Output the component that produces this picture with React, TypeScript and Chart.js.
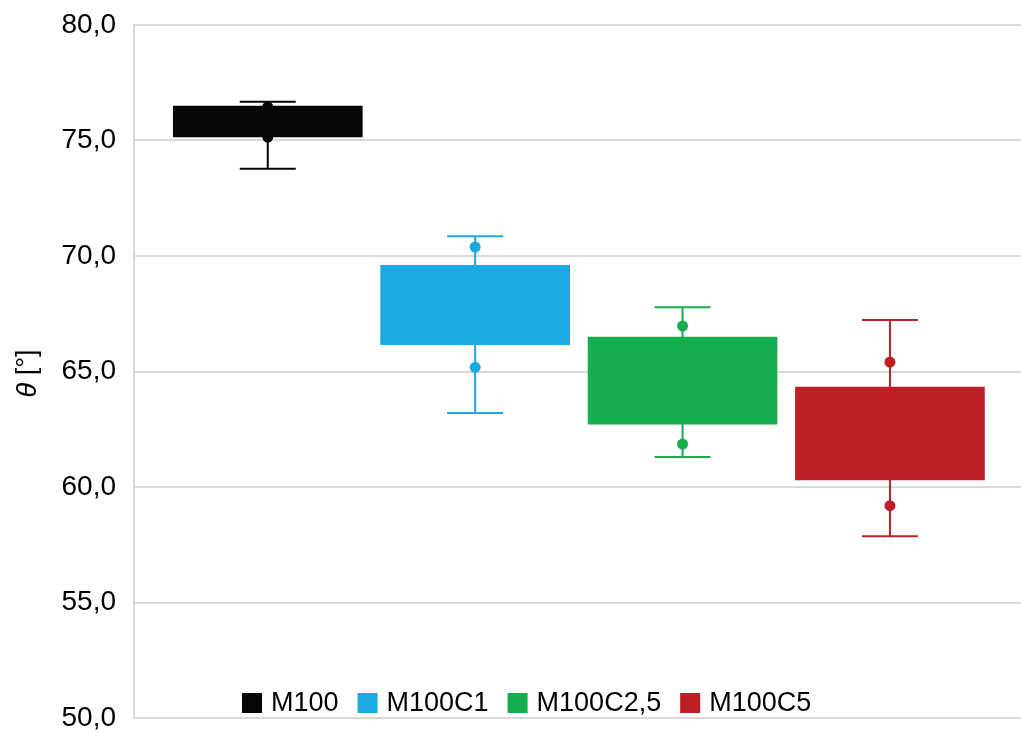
import React, { useEffect, useRef } from "react";
import { Chart, registerables } from "chart.js";

Chart.register(...registerables);

const categories = ["M100", "M100C1", "M100C2,5", "M100C5"];
const colors = ["#060606", "#1aaae0", "#16ad4e", "#bd1f24"];
const boxLow = [75.16, 66.16, 62.72, 60.31];
const boxHigh = [76.49, 69.6, 66.49, 64.33];
const whiskerLow = [73.78, 63.2, 61.3, 57.87];
const whiskerHigh = [76.68, 70.85, 67.78, 67.23];
const pointHigh = [76.45, 70.39, 66.97, 65.41];
const pointLow = [75.15, 65.18, 61.86, 59.19];
const yTicks = [50, 55, 60, 65, 70, 75, 80];

const FONT = "'Liberation Sans', Arial, sans-serif";

const whiskerPlugin = {
  id: "whiskers",
  beforeDatasetsDraw(chart: any) {
    const ctx = chart.ctx;
    const xs = chart.scales.x;
    const ys = chart.scales.y;
    ctx.save();
    ctx.lineWidth = 2;
    categories.forEach((_, i) => {
      const x = xs.getPixelForValue(i + 1);
      const y1 = ys.getPixelForValue(whiskerLow[i]);
      const y2 = ys.getPixelForValue(whiskerHigh[i]);
      ctx.strokeStyle = colors[i];
      ctx.beginPath();
      ctx.moveTo(x, y1);
      ctx.lineTo(x, y2);
      ctx.moveTo(x - 28, y1);
      ctx.lineTo(x + 28, y1);
      ctx.moveTo(x - 28, y2);
      ctx.lineTo(x + 28, y2);
      ctx.stroke();
    });
    ctx.restore();
  },
};

const legendAndTitlePlugin = {
  id: "customLegendTitle",
  afterDraw(chart: any) {
    const ctx = chart.ctx;
    const area = chart.chartArea;
    ctx.save();
    ctx.font = `27px ${FONT}`;
    ctx.textBaseline = "middle";
    ctx.textAlign = "left";
    let x = area.left + 108;
    const yc = area.bottom - 15;
    categories.forEach((name, i) => {
      ctx.fillStyle = colors[i];
      ctx.fillRect(x, yc - 10, 20, 20);
      x += 29;
      ctx.fillStyle = "#000";
      ctx.fillText(name, x, yc + 1);
      x += ctx.measureText(name).width + 19;
    });
    ctx.translate(28, (area.top + area.bottom) / 2 + 2);
    ctx.rotate(-Math.PI / 2);
    const t1 = "θ";
    const t2 = " [°]";
    ctx.font = `italic 27px ${FONT}`;
    const w1 = ctx.measureText(t1).width;
    ctx.font = `27px ${FONT}`;
    const w2 = ctx.measureText(t2).width;
    const start = -(w1 + w2) / 2;
    ctx.fillStyle = "#000";
    ctx.font = `italic 27px ${FONT}`;
    ctx.fillText(t1, start, 0);
    ctx.font = `27px ${FONT}`;
    ctx.fillText(t2, start + w1, 0);
    ctx.restore();
  },
};

export default function App() {
  const ref = useRef<HTMLCanvasElement>(null);
  useEffect(() => {
    document.body.style.margin = "0";
    const barSets = categories.map((name, i) => ({
      type: "bar" as const,
      label: name,
      data: [{ x: i + 1, y: [boxLow[i], boxHigh[i]] }],
      backgroundColor: colors[i],
      borderWidth: 0,
      barThickness: 189,
      grouped: false,
      order: 2,
    }));
    const pts: any[] = [];
    const ptColors: string[] = [];
    categories.forEach((_, i) => {
      pts.push({ x: i + 1, y: pointHigh[i] });
      ptColors.push(colors[i]);
      pts.push({ x: i + 1, y: pointLow[i] });
      ptColors.push(colors[i]);
    });
    const chart = new Chart(ref.current!, {
      type: "bar",
      data: {
        datasets: [
          ...barSets,
          {
            type: "scatter" as const,
            label: "points",
            data: pts,
            pointRadius: 5.5,
            pointBackgroundColor: ptColors,
            pointBorderColor: ptColors,
            pointBorderWidth: 0,
            showLine: false,
            order: 0,
          } as any,
        ],
      },
      options: {
        animation: false,
        responsive: false,
        devicePixelRatio: 1,
        layout: { autoPadding: false, padding: { top: 25, bottom: 16, left: 0, right: 0 } },
        plugins: { legend: { display: false }, tooltip: { enabled: false } },
        scales: {
          x: {
            type: "linear",
            display: false,
            min: 0.355,
            max: 4.632,
            offset: false,
          },
          y: {
            min: 50,
            max: 80,
            afterBuildTicks: (scale: any) => {
              scale.ticks = yTicks.map((v) => ({ value: v }));
            },
            afterFit: (scale: any) => {
              scale.width = 134;
              scale.paddingTop = 0;
              scale.paddingBottom = 0;
            },
            ticks: {
              color: "#000",
              padding: 18,
              font: { family: FONT, size: 28 },
              callback: (v: any) => Number(v).toFixed(1).replace(".", ","),
            },
            grid: { color: "#d9d9d9", lineWidth: 2, drawTicks: false },
            border: { color: "#d9d9d9", width: 2 },
          },
        },
      },
      plugins: [whiskerPlugin, legendAndTitlePlugin],
    });
    return () => chart.destroy();
  }, []);
  return (
    <div style={{ width: 1021, height: 734 }}>
      <canvas ref={ref} width={1021} height={734} />
    </div>
  );
}
